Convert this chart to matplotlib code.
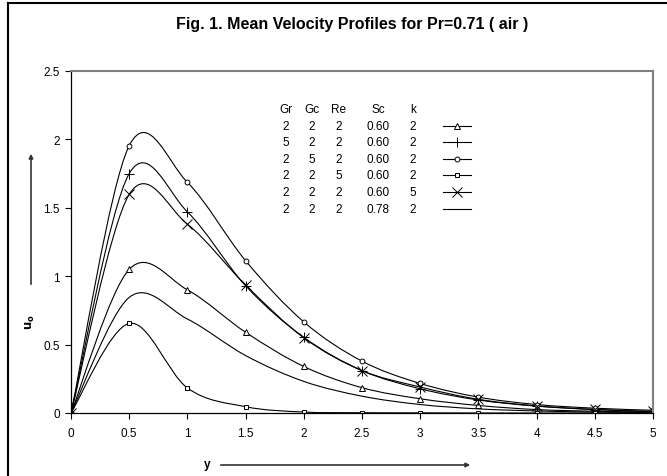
import numpy as np
import matplotlib.pyplot as plt
from matplotlib.path import Path
from matplotlib.patches import PathPatch
from matplotlib.lines import Line2D

plt.rcParams['font.family'] = ['Liberation Sans', 'DejaVu Sans']

y_pos = [0, 0.5, 1, 1.5, 2, 2.5, 3, 3.5, 4, 4.5, 5]

# u0 profiles, one per parameter set
u_base = [0, 1.05, 0.90, 0.59, 0.34, 0.185, 0.104, 0.055, 0.025, 0.013, 0.006]
u_gr5 = [0, 1.75, 1.47, 0.93, 0.553, 0.31, 0.177, 0.095, 0.05, 0.025, 0.01]
u_gc5 = [0, 1.954, 1.686, 1.113, 0.666, 0.379, 0.216, 0.116, 0.062, 0.035, 0.02]
u_re5 = [0, 0.655, 0.183, 0.046, 0.007, 0.002, 0.001, 0, 0, 0, 0]
u_k5 = [0, 1.598, 1.38, 0.935, 0.55, 0.31, 0.19, 0.1, 0.052, 0.026, 0.012]
u_sc78 = [0, 0.845, 0.687, 0.42, 0.231, 0.123, 0.062, 0.03, 0.015, 0.007, 0.003]

params = [('2', '2', '2', '0.60', '2'),
          ('5', '2', '2', '0.60', '2'),
          ('2', '5', '2', '0.60', '2'),
          ('2', '2', '5', '0.60', '2'),
          ('2', '2', '2', '0.60', '5'),
          ('2', '2', '2', '0.78', '2')]
series = [u_base, u_gr5, u_gc5, u_re5, u_k5, u_sc78]
markers = [('^', 4), ('+', 7), ('o', 3.5), ('s', 3.5), ('x', 7), (None, 0)]


def smooth_path(xs, ys):
    # excel-like smoothed line: bezier segments through every point
    pts = np.column_stack([xs, ys]).astype(float)
    n = len(pts)
    verts = [pts[0]]
    codes = [Path.MOVETO]
    for i in range(n - 1):
        p0 = pts[max(i - 1, 0)]
        p1 = pts[i]
        p2 = pts[i + 1]
        p3 = pts[min(i + 2, n - 1)]
        c1 = p1 + (p2 - p0) / 6.0
        c2 = p2 - (p3 - p1) / 6.0
        verts += [c1, c2, p2]
        codes += [Path.CURVE4] * 3
    return Path(verts, codes)


W, H = 667, 477
fig = plt.figure(figsize=(W / 100, H / 100), dpi=100)
ax = fig.add_axes([71 / W, 1 - 414 / H, 582 / W, 342 / H])

for vals, (m, ms) in zip(series, markers):
    ax.add_patch(PathPatch(smooth_path(y_pos, vals), fill=False,
                           edgecolor='black', lw=0.8))
    if m:
        ax.plot(y_pos, vals, linestyle='none', marker=m, ms=ms,
                mfc='white' if m in '^os' else 'black', mec='black', mew=0.7)

ax.set_xlim(0, 5)
ax.set_ylim(0, 2.5)
ax.set_xticks(np.arange(0, 5.01, 0.5))
ax.set_xticklabels(['0', '0.5', '1', '1.5', '2', '2.5', '3', '3.5', '4', '4.5', '5'])
ax.set_yticks(np.arange(0, 2.51, 0.5))
ax.set_yticklabels(['0', '0.5', '1', '1.5', '2', '2.5'])
ax.tick_params(direction='out', length=4, width=0.8, labelsize=8.5)
ax.tick_params(axis='x', pad=6)
ax.tick_params(axis='y', pad=4)
for s in ['top', 'right']:
    ax.spines[s].set_color('#808080')
    ax.spines[s].set_linewidth(1.5)
for s in ['left', 'bottom']:
    ax.spines[s].set_linewidth(0.9)

fig.text(352 / W, 1 - 24 / H, 'Fig. 1. Mean Velocity Profiles for Pr=0.71 ( air )',
         ha='center', va='center', fontsize=11.5, fontweight='bold')

# legend table
col_x = [286, 312, 339, 378, 413]
row_y0, row_dy = 110, 16.6
for cx, h in zip(col_x, ['Gr', 'Gc', 'Re', 'Sc', 'k']):
    fig.text(cx / W, 1 - row_y0 / H, h, ha='center', va='center', fontsize=8.5)
for i, (row, (m, ms)) in enumerate(zip(params, markers)):
    yy = 1 - (row_y0 + row_dy * (i + 1)) / H
    for cx, t in zip(col_x, row):
        fig.text(cx / W, yy, t, ha='center', va='center', fontsize=8.5)
    fig.add_artist(Line2D([443 / W, 471 / W], [yy, yy], color='black', lw=0.8))
    if m:
        fig.add_artist(Line2D([457 / W], [yy], marker=m, ms=ms, mec='black',
                              mfc='white' if m in '^os' else 'black', mew=0.7))

# axis titles with arrows
fig.text(30 / W, 1 - 322 / H, r'$\mathbf{u_o}$', rotation=90, ha='center',
         va='center', fontsize=8.5)
fig.add_artist(plt.Annotation('', xy=(31 / W, 1 - 152 / H), xytext=(31 / W, 1 - 288 / H),
                              xycoords='figure fraction',
                              arrowprops=dict(arrowstyle='-|>', color='#333333', lw=1.2,
                                              mutation_scale=6)))
fig.text(207 / W, 1 - 465 / H, 'y', ha='center', va='center', fontsize=8.5,
         fontweight='bold')
fig.add_artist(plt.Annotation('', xy=(473 / W, 1 - 466 / H), xytext=(218 / W, 1 - 466 / H),
                              xycoords='figure fraction',
                              arrowprops=dict(arrowstyle='-|>', color='#333333', lw=1.2,
                                              mutation_scale=6)))

# outer frame
fig.add_artist(Line2D([8 / W, 8 / W], [0, 1 - 4 / H], color='black', lw=1.5))
fig.add_artist(Line2D([8 / W, 1], [1 - 4 / H, 1 - 4 / H], color='black', lw=1.5))

fig.savefig('out.png', dpi=100)
